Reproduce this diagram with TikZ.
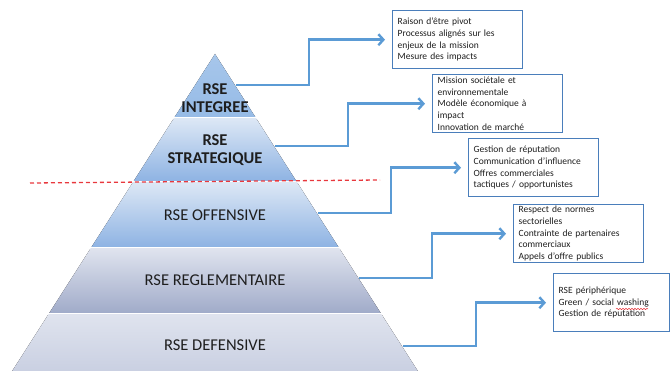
\documentclass[tikz,border=0pt]{standalone}
\usepackage{fontspec}
\setmainfont{Carlito}
\usetikzlibrary{arrows.meta,decorations.pathmorphing}

\definecolor{linkblue}{HTML}{5B9BD5}
\definecolor{boxblue}{HTML}{4A7EBB}
\definecolor{cutred}{HTML}{E8383D}
\definecolor{inktext}{HTML}{1E1E1E}

\begin{document}
\begin{tikzpicture}[x=1pt,y=-1pt,
			level/.style = {font=\fontsize{16.5}{18}\selectfont, text=inktext, align=center},
			levelbold/.style = {level, font=\fontsize{16.5}{18.5}\bfseries\selectfont},
			infobox/.style = {draw=boxblue, line width=1.4pt, anchor=north west, align=left,
				text width=120pt, minimum height=58pt, inner xsep=5pt, inner ysep=1pt,
				font=\fontsize{9.5}{11.7}\selectfont, text=inktext},
			link/.style = {draw=linkblue, line width=2.4pt,
				-{Straight Barb[length=5pt,width=11pt]}, shorten >=7pt}
					]
			\useasboundingbox (0,0) rectangle (670,371);
			\def\apexx{215}
			\def\apexy{54}
			% pyramid bands
			\begin{scope}
				\clip (\apexx,\apexy) -- (9,376) -- (421,376) -- cycle;
				\fill[top color={rgb,255:red,168;green,199;blue,235}, bottom color={rgb,255:red,150;green,187;blue,230}] (0,50) rectangle (670,117);
				\fill[top color={rgb,255:red,220;green,231;blue,245}, bottom color={rgb,255:red,142;green,179;blue,227}] (0,119) rectangle (670,181);
				\fill[top color={rgb,255:red,220;green,231;blue,245}, bottom color={rgb,255:red,142;green,179;blue,227}] (0,183) rectangle (670,247);
				\fill[top color={rgb,255:red,223;green,227;blue,238}, bottom color={rgb,255:red,160;green,171;blue,201}] (0,249) rectangle (670,313);
				\fill[top color={rgb,255:red,223;green,227;blue,238}, bottom color={rgb,255:red,198;green,205;blue,224}] (0,315) rectangle (670,380);
			\end{scope}
			\node[levelbold] (integree) at (\apexx,98) {RSE\\INTEGREE};
			\node[levelbold] (strategique) at (\apexx,150) {RSE\\STRATEGIQUE};
			\node[level] (offensive) at (\apexx,215) {RSE OFFENSIVE};
			\node[level] (reglementaire) at (\apexx,280) {RSE REGLEMENTAIRE};
			\node[level] (defensive) at (\apexx,345) {RSE DEFENSIVE};
			% cut line
			\draw[cutred, line width=1.3pt, dash pattern=on 4pt off 3pt] (30,183) -- (380,180);
			% boxes
			\node[infobox] (integree info) at (392,10) {Raison d’être pivot\\Processus alignés sur les\\enjeux de la mission\\Mesure des impacts};
			\node[infobox] (strategique info) at (432,74) {Mission sociétale et\\environnementale\\Modèle économique à\\impact\\Innovation de marché};
			\node[infobox] (offensive info) at (468,138) {Gestion de réputation\\Communication d’influence\\Offres commerciales\\tactiques / opportunistes};
			\node[infobox] (reglementaire info) at (513,204) {Respect de normes\\sectorielles\\Contrainte de partenaires\\commerciaux\\Appels d’offre publics};
			\node[infobox, text width=106pt] (defensive info) at (553,273) {RSE périphérique\\Green / social washing\\Gestion de réputation};
			\draw[cutred, line width=0.5pt, decorate, decoration={snake, amplitude=0.7pt, segment length=3pt}] (616,309) -- (648,309);
			% connectors
			\coordinate (integree out) at (236,85);
			\coordinate (strategique out) at (275,146);
			\coordinate (offensive out) at (318,213);
			\coordinate (reglementaire out) at (359,278);
			\coordinate (defensive out) at (403,346);
			\draw[link] (integree out) -- ++(73,0) |- (integree info.west);
			\draw[link] (strategique out) -- ++(73,0) |- (strategique info.west);
			\draw[link] (offensive out) -- ++(73,0) |- (offensive info.west);
			\draw[link] (reglementaire out) -- ++(73,0) |- (reglementaire info.west);
			\draw[link] (defensive out) -- ++(73,0) |- (defensive info.west);
		\end{tikzpicture}
\end{document}
